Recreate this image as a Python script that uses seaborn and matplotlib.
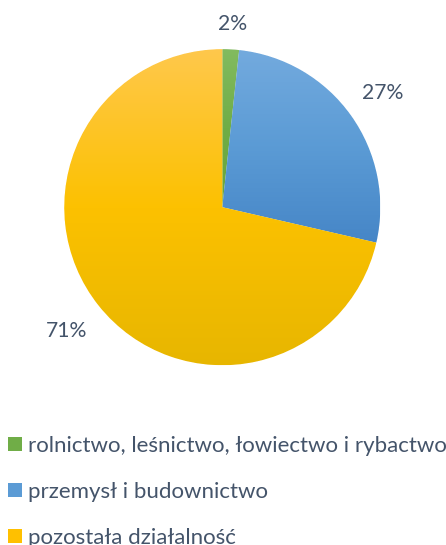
import numpy as np
import matplotlib
matplotlib.use("Agg")
import matplotlib.pyplot as plt
from matplotlib.colors import LinearSegmentedColormap
from matplotlib.patches import Patch
import seaborn as sns

# ---- data ----
categories = ["rolnictwo, leśnictwo, łowiectwo i rybactwo",
              "przemysł i budownictwo",
              "pozostała działalność"]
shares = [1.7, 26.9, 71.4]
pct_labels = [f"{round(v)}%" for v in shares]

# ---- style ----
sns.set_theme(style="white")
plt.rcParams['font.family'] = ['Lato', 'DejaVu Sans']
text_color = "#44546A"
base_colors = ["#70AD47", "#5B9BD5", "#FFC000"]
grad_stops = [
    ["#82BB60", "#70AD47", "#66A53A"],
    ["#73AADE", "#5B9BD5", "#4686C7"],
    ["#FFC84C", "#FCC100", "#E7B600"],
]
label_radius = [1.16, 1.245, 1.26]

W, H = 446, 545
fig = plt.figure(figsize=(W / 100, H / 100), dpi=100)
cx, cy, R = 222.3, 207.2, 158.0
ax = fig.add_axes([(cx - R) / W, (H - cy - R) / H, 2 * R / W, 2 * R / H])

wedges, texts = ax.pie(shares, labels=pct_labels, colors=base_colors,
                       startangle=90, counterclock=False, radius=1.0,
                       labeldistance=1.2,
                       wedgeprops=dict(edgecolor="white", linewidth=0.6),
                       textprops=dict(fontsize=15.2, color=text_color))
ax.set_xlim(-1, 1)
ax.set_ylim(-1, 1)
ax.set_aspect("equal")
ax.axis("off")

# vertical gradient fill per slice (clipped to the wedge)
for w, stops in zip(wedges, grad_stops):
    verts = w.get_path().vertices
    x0, x1 = verts[:, 0].min(), verts[:, 0].max()
    y0, y1 = verts[:, 1].min(), verts[:, 1].max()
    cmap = LinearSegmentedColormap.from_list("g", stops[::-1])
    grad = np.linspace(0, 1, 256).reshape(-1, 1)
    im = ax.imshow(grad, cmap=cmap, extent=[x0, x1, y0, y1], origin="lower",
                   aspect="auto", zorder=w.get_zorder() + 0.1, interpolation="bilinear")
    im.set_clip_path(w)
ax.set_xlim(-1, 1)
ax.set_ylim(-1, 1)

# position percentage labels around the slice mid-angles
for w, t, r in zip(wedges, texts, label_radius):
    ang = np.deg2rad((w.theta1 + w.theta2) / 2)
    t.set_position((r * np.cos(ang), r * np.sin(ang)))
    t.set_ha("center")
    t.set_va("center")

handles = [Patch(facecolor=c, edgecolor="none") for c in base_colors]
fig.legend(handles, categories, loc="upper left",
           bbox_to_anchor=(8 / W, 1 - 436 / H), frameon=False,
           fontsize=16, labelcolor=text_color,
           handlelength=0.62, handleheight=0.62, handletextpad=0.3,
           labelspacing=1.17, borderpad=0, borderaxespad=0)

fig.savefig("out.png", dpi=100)
